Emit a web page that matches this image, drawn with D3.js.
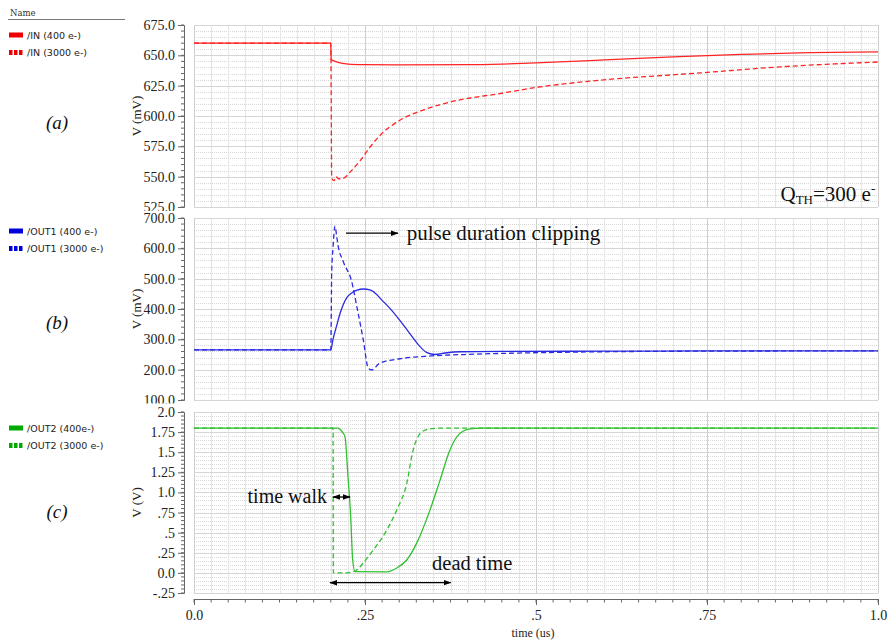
<!DOCTYPE html>
<html>
<head>
<meta charset="utf-8">
<script src="https://cdn.jsdelivr.net/npm/d3@7"></script>
<style>
  body { margin: 0; background: #fff; }
  svg { display: block; }
  .tick text { font-family: "Liberation Serif", "DejaVu Serif", serif; }
</style>
</head>
<body>
<svg id="chart" width="888" height="642"></svg>
<script>
// time (us) of each sample, and the voltages
const in400_t  = [0, 0.2, 0.2005, 0.202, 0.206, 0.212, 0.22, 0.23, 0.25, 0.3, 0.4, 0.45, 0.5, 0.6, 0.7, 0.8, 0.9, 1.0];
const in400_v  = [660, 660, 646.5, 646, 645, 644, 643.2, 642.6, 642.3, 642.2, 642.3, 642.8, 643.8, 646.2, 648.8, 650.8, 652.2, 652.8];

const in3000_t = [0, 0.2, 0.2013, 0.2047, 0.2076, 0.211, 0.216, 0.2208, 0.228, 0.2427, 0.2573, 0.2719, 0.301, 0.338, 0.374, 0.447, 0.506, 0.594, 0.74, 0.857, 1.0];
const in3000_v = [660, 660, 549, 546.7, 550, 548.3, 548.3, 549.4, 553.6, 563, 574.3, 584, 596.5, 605.5, 611.5, 618.5, 624, 629.5, 635.5, 640.5, 644.5];

const out1_400_t = [0, 0.2, 0.2032, 0.2086, 0.2135, 0.2183, 0.2237, 0.2306, 0.2383, 0.2475, 0.2573, 0.2671, 0.2719, 0.2865, 0.3012, 0.3158, 0.3304, 0.3406, 0.3523, 0.367, 0.3889, 0.45, 0.6, 0.75, 1.0];
const out1_400_v = [265, 265, 300, 345, 385, 415, 438, 453, 462, 466, 463, 448, 436, 402, 362, 318, 276, 256, 250, 255, 259, 260, 261, 262, 262];

const out1_3000_t = [0, 0.2, 0.2013, 0.2032, 0.2061, 0.2086, 0.2105, 0.2183, 0.2306, 0.2383, 0.2475, 0.2548, 0.2598, 0.2719, 0.301, 0.338, 0.41, 0.53, 0.74, 1.0];
const out1_3000_v = [265, 265, 520, 600, 673, 640, 611, 556, 490, 405, 298, 205, 199, 222, 236, 244, 251, 257, 261, 262];

const out2_400_t = [0, 0.2, 0.2105, 0.215, 0.2178, 0.2208, 0.2251, 0.2291, 0.232, 0.2354, 0.282, 0.2963, 0.311, 0.3256, 0.345, 0.3596, 0.3743, 0.386, 0.4035, 0.42, 1.0];
const out2_400_v = [1.8, 1.8, 1.8, 1.77, 1.74, 1.69, 1.2, 0.7, 0.16, 0.015, 0.012, 0.06, 0.16, 0.37, 0.78, 1.15, 1.53, 1.71, 1.79, 1.8, 1.8];

const out2_3000_t = [0, 0.2, 0.2033, 0.2037, 0.2232, 0.2379, 0.2471, 0.2617, 0.2817, 0.2963, 0.311, 0.3202, 0.3304, 0.3402, 0.36, 1.0];
const out2_3000_v = [1.8, 1.8, 1.8, 0.0, 0.0, 0.036, 0.12, 0.28, 0.53, 0.78, 1.11, 1.52, 1.73, 1.78, 1.8, 1.8];

const x_ticks = [0, 0.25, 0.5, 0.75, 1.0];
const x_tick_labels = ["0.0", ".25", ".5", ".75", "1.0"];

const in_ticks = [525, 550, 575, 600, 625, 650, 675];
const in_tick_labels = ["525.0", "550.0", "575.0", "600.0", "625.0", "650.0", "675.0"];
const out1_ticks = [100, 200, 300, 400, 500, 600, 700];
const out1_tick_labels = ["100.0", "200.0", "300.0", "400.0", "500.0", "600.0", "700.0"];
const out2_ticks = [-0.25, 0, 0.25, 0.5, 0.75, 1.0, 1.25, 1.5, 1.75, 2.0];
const out2_tick_labels = ["-.25", "0.0", ".25", ".5", ".75", "1.0", "1.25", "1.5", "1.75", "2.0"];

const legend_in   = ["/IN (400 e-)", "/IN (3000 e-)"];
const legend_out1 = ["/OUT1 (400 e-)", "/OUT1 (3000 e-)"];
const legend_out2 = ["/OUT2 (400e-)", "/OUT2 (3000 e-)"];

const svg = d3.select("#chart");
const x_left = 194, x_right = 878;
const x = d3.scaleLinear().domain([0, 1]).range([x_left, x_right]);

const zip = (ts, vs) => ts.map((t, i) => [t, vs[i]]);

const panels = [
  { top: 25, bottom: 207, domain: [525, 675], minor: 5, ticks: in_ticks, labels: in_tick_labels,
    unit: "V (mV)", tag: "(a)", tagY: 123, clip: [0, 211], color: "#ff2424", swatch: "#ee0000",
    legend: legend_in, legendY: 35, series: [zip(in400_t, in400_v), zip(in3000_t, in3000_v)] },
  { top: 218, bottom: 400, domain: [100, 700], minor: 20, ticks: out1_ticks, labels: out1_tick_labels,
    unit: "V (mV)", tag: "(b)", tagY: 323, clip: [211, 403.5], color: "#2a2ae2", swatch: "#0000dd",
    legend: legend_out1, legendY: 231, series: [zip(out1_400_t, out1_400_v), zip(out1_3000_t, out1_3000_v)] },
  { top: 412, bottom: 593, domain: [-0.25, 2.0], minor: 0.05, ticks: out2_ticks, labels: out2_tick_labels,
    unit: "V (V)", tag: "(c)", tagY: 512, clip: [403.5, 598], color: "#30c030", swatch: "#00aa00",
    legend: legend_out2, legendY: 428, series: [zip(out2_400_t, out2_400_v), zip(out2_3000_t, out2_3000_v)] }
];

// defs for arrows and clips
const defs = svg.append("defs");
defs.append("marker").attr("id", "arr").attr("viewBox", "0 0 10 10")
  .attr("refX", 9).attr("refY", 5).attr("markerWidth", 6).attr("markerHeight", 6)
  .attr("orient", "auto-start-reverse")
  .append("path").attr("d", "M0,1.5 L10,5 L0,8.5 Z").attr("fill", "#000");

// "Name" header of the legend column
svg.append("text").attr("x", 10).attr("y", 16).text("Name")
  .style("font-family", "DejaVu Serif, serif").style("font-size", "8.5px").attr("fill", "#333");
svg.append("line").attr("x1", 8).attr("x2", 125).attr("y1", 19.5).attr("y2", 19.5)
  .attr("stroke", "#777").attr("stroke-width", 1);

panels.forEach((p, k) => {
  const y = d3.scaleLinear().domain(p.domain).range([p.bottom, p.top]);
  p.y = y;

  const grid = svg.append("g");
  const minorVals = d3.range(Math.round((p.domain[1] - p.domain[0]) / p.minor) + 1)
                      .map(i => p.domain[0] + i * p.minor);
  grid.selectAll("line.hmin").data(minorVals).enter().append("line")
    .attr("x1", x_left).attr("x2", x_right)
    .attr("y1", d => Math.round(y(d)) + 0.5).attr("y2", d => Math.round(y(d)) + 0.5)
    .attr("stroke", "#d8d8d8").attr("stroke-dasharray", "1,1");
  grid.selectAll("line.vmin").data(d3.range(41).map(i => i * 0.025)).enter().append("line")
    .attr("y1", p.top).attr("y2", p.bottom)
    .attr("x1", d => Math.round(x(d)) + 0.5).attr("x2", d => Math.round(x(d)) + 0.5)
    .attr("stroke", d => Math.abs(d * 4 - Math.round(d * 4)) < 1e-6 ? "#cfcfcf" : "#e6e6e6");
  grid.selectAll("line.hmaj").data(p.ticks).enter().append("line")
    .attr("x1", x_left).attr("x2", x_right)
    .attr("y1", d => Math.round(y(d)) + 0.5).attr("y2", d => Math.round(y(d)) + 0.5)
    .attr("stroke", "#d6d6d6");

  // y axis, clipped to its panel band
  defs.append("clipPath").attr("id", "clip" + k).append("rect")
    .attr("x", 0).attr("width", 888).attr("y", p.clip[0]).attr("height", p.clip[1] - p.clip[0]);
  const ax = svg.append("g").attr("clip-path", "url(#clip" + k + ")");
  const axis = ax.append("g").attr("transform", "translate(184,0)")
    .call(d3.axisLeft(y).tickValues(p.ticks).tickSize(6).tickPadding(3)
            .tickFormat((d, i) => p.labels[i]));
  axis.select(".domain").attr("stroke", "#666");
  axis.selectAll(".tick line").attr("stroke", "#666");
  axis.selectAll(".tick text").style("font-size", "14px").attr("fill", "#222");
  ax.append("g").selectAll("line").data(minorVals).enter().append("line")
    .attr("x1", 181).attr("x2", 184)
    .attr("y1", d => y(d)).attr("y2", d => y(d)).attr("stroke", "#666");

  svg.append("text")
    .attr("transform", "translate(141," + ((p.top + p.bottom) / 2) + ") rotate(-90)")
    .attr("text-anchor", "middle").text(p.unit)
    .style("font-family", "Liberation Serif, serif").style("font-size", "13px").attr("fill", "#222");

  // curves
  const line = d3.line().curve(d3.curveMonotoneX).x(d => x(d[0])).y(d => y(d[1]));
  svg.append("g").selectAll("path").data(p.series).enter().append("path")
    .attr("d", line).attr("fill", "none").attr("stroke", p.color).attr("stroke-width", 1.3)
    .attr("stroke-dasharray", (d, i) => i === 1 ? "5,3" : null);

  // panel tag
  svg.append("text").attr("x", 57).attr("y", p.tagY + 6).attr("text-anchor", "middle").text(p.tag)
    .style("font-family", "Liberation Serif, serif").style("font-style", "italic")
    .style("font-size", "19px").attr("fill", "#111");

  // legend entries
  p.legend.forEach((name, i) => {
    const ly = p.legendY + i * 17.5;
    if (i === 0) {
      svg.append("rect").attr("x", 9).attr("y", ly - 2.5).attr("width", 14).attr("height", 5).attr("fill", p.swatch);
    } else {
      [0, 1, 2].forEach(j => svg.append("rect").attr("x", 9 + j * 5).attr("y", ly - 2.5)
        .attr("width", 3.5).attr("height", 5).attr("fill", p.swatch));
    }
    svg.append("text").attr("x", 27).attr("y", ly + 3.5).text(name)
      .style("font-family", "DejaVu Sans, sans-serif").style("font-size", "9.5px").attr("fill", "#222");
  });
});

// shared time axis
const xa = svg.append("g").attr("transform", "translate(0,599)");
const xaxis = xa.call(d3.axisBottom(x).tickValues(x_ticks).tickSize(6).tickPadding(5)
  .tickFormat((d, i) => x_tick_labels[i]));
xaxis.select(".domain").attr("stroke", "#666");
xaxis.selectAll(".tick line").attr("stroke", "#666");
xaxis.selectAll(".tick text").style("font-size", "14px").attr("fill", "#222");
xa.append("g").selectAll("line").data(d3.range(41).map(i => i * 0.025)).enter().append("line")
  .attr("x1", d => x(d)).attr("x2", d => x(d)).attr("y1", 0).attr("y2", 3.5).attr("stroke", "#666");
svg.append("text").attr("x", (x_left + x_right) / 2 - 3).attr("y", 637).attr("text-anchor", "middle")
  .text("time (us)").style("font-family", "Liberation Serif, serif").style("font-size", "12px").attr("fill", "#222");

// annotations
const [pa, pb, pc] = panels;
const annoFont = "Liberation Serif, serif";

svg.append("text").attr("x", x(0.996)).attr("y", pa.y(536) + 7).attr("text-anchor", "end")
  .style("font-family", annoFont).style("font-size", "21px").attr("fill", "#111")
  .call(t => {
    t.append("tspan").text("Q");
    t.append("tspan").text("TH").style("font-size", "13px").attr("dy", 3);
    t.append("tspan").text("=300 e").attr("dy", -3);
    t.append("tspan").text("-").style("font-size", "13px").attr("dy", -8);
  });

svg.append("line").attr("x1", x(0.2222)).attr("x2", x(0.2982)).attr("y1", pb.y(650)).attr("y2", pb.y(650))
  .attr("stroke", "#000").attr("stroke-width", 1.3).attr("marker-end", "url(#arr)");
svg.append("text").attr("x", x(0.311)).attr("y", pb.y(650) + 6.5).text("pulse duration clipping")
  .style("font-family", annoFont).style("font-size", "21px").attr("fill", "#111");

svg.append("line").attr("x1", x(0.2032)).attr("x2", x(0.228)).attr("y1", pc.y(0.943)).attr("y2", pc.y(0.943))
  .attr("stroke", "#000").attr("stroke-width", 1.3)
  .attr("marker-start", "url(#arr)").attr("marker-end", "url(#arr)");
svg.append("text").attr("x", x(0.1944)).attr("y", pc.y(0.943) + 6).attr("text-anchor", "end").text("time walk")
  .style("font-family", annoFont).style("font-size", "20px").attr("fill", "#111");

svg.append("line").attr("x1", x(0.1988)).attr("x2", x(0.3753)).attr("y1", pc.y(-0.122)).attr("y2", pc.y(-0.122))
  .attr("stroke", "#000").attr("stroke-width", 1.3)
  .attr("marker-start", "url(#arr)").attr("marker-end", "url(#arr)");
svg.append("text").attr("x", x(0.348)).attr("y", pc.y(0.11) + 6).text("dead time")
  .style("font-family", annoFont).style("font-size", "20.5px").attr("fill", "#111");
</script>
</body>
</html>
